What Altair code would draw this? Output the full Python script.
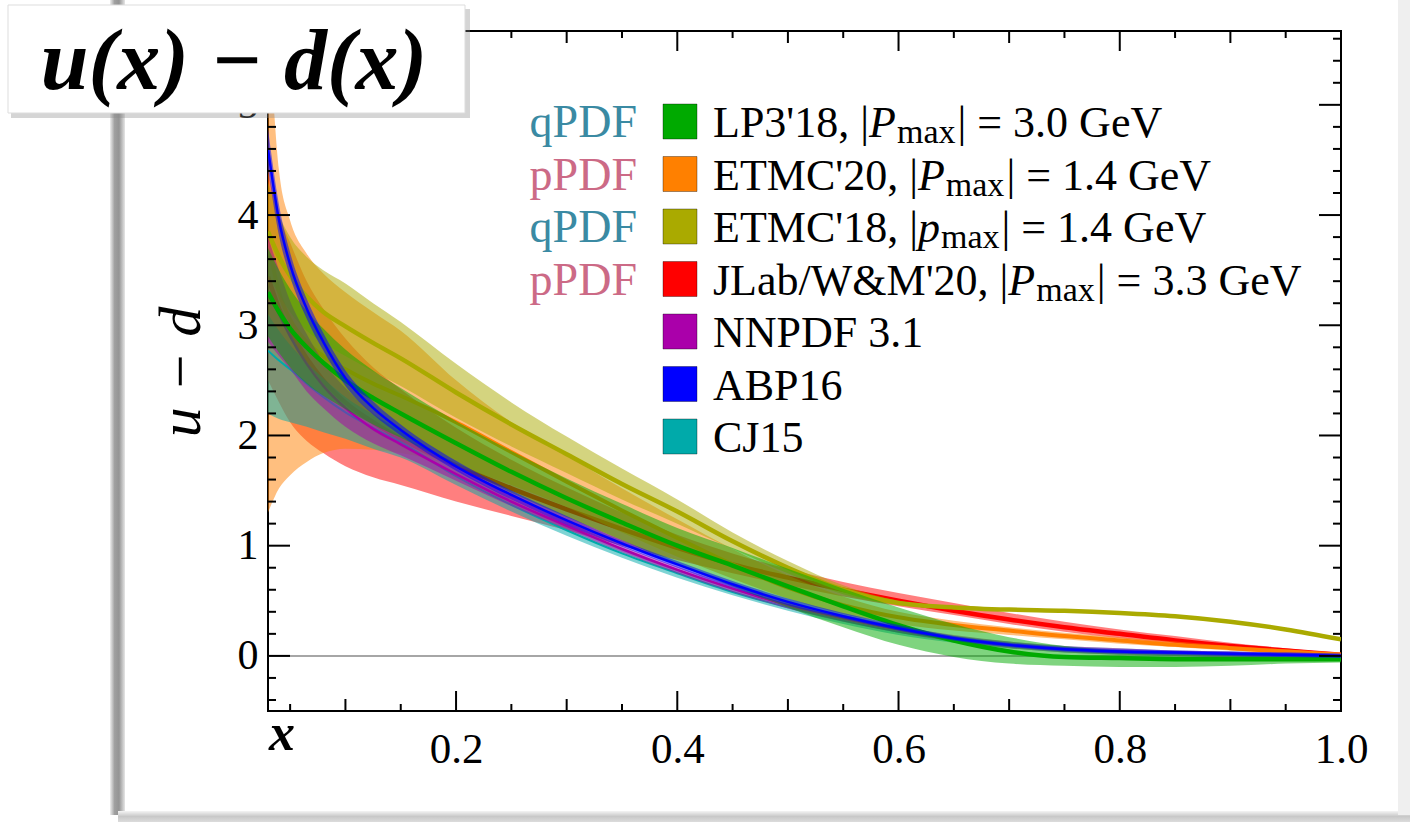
import altair as alt
import pandas as pd
import numpy as np

# ---------------- data ----------------
X = [0.03, 0.04, 0.05, 0.065, 0.08, 0.1, 0.125, 0.15, 0.2, 0.25, 0.3, 0.35, 0.4,
     0.45, 0.5, 0.55, 0.6, 0.65, 0.7, 0.75, 0.8, 0.85, 0.9, 0.95, 1.0]

LP3_MID = [3.3, 3.12, 2.97, 2.8, 2.66, 2.5, 2.34, 2.2, 1.93, 1.67, 1.43, 1.21, 1.0,
           0.82, 0.63, 0.45, 0.28, 0.14, 0.04, -0.01, -0.02, -0.03, -0.03, -0.03, -0.03]
LP3_LO = [2.9, 2.75, 2.62, 2.47, 2.36, 2.24, 2.1, 1.98, 1.73, 1.48, 1.26, 1.05, 0.83,
          0.63, 0.44, 0.26, 0.1, -0.01, -0.07, -0.09, -0.1, -0.1, -0.09, -0.07, -0.06]
LP3_HI = [3.7, 3.5, 3.33, 3.13, 2.97, 2.78, 2.59, 2.43, 2.13, 1.86, 1.61, 1.38, 1.16,
          0.98, 0.79, 0.61, 0.44, 0.29, 0.17, 0.09, 0.05, 0.03, 0.02, 0.01, 0.0]

ETMC20_MID = [3.75, 3.3, 3.05, 2.85, 2.72, 2.6, 2.47, 2.36, 2.12, 1.85, 1.58, 1.32, 1.07,
              0.83, 0.62, 0.46, 0.35, 0.28, 0.23, 0.18, 0.14, 0.1, 0.07, 0.04, 0.01]
ETMC20_LO = [1.3, 1.52, 1.64, 1.76, 1.84, 1.88, 1.87, 1.84, 1.72, 1.55, 1.35, 1.12, 0.9,
             0.7, 0.52, 0.38, 0.29, 0.23, 0.19, 0.15, 0.11, 0.08, 0.05, 0.02, -0.01]
ETMC20_HI = [5.9, 4.4, 3.95, 3.65, 3.47, 3.3, 3.12, 2.95, 2.5, 2.12, 1.82, 1.52, 1.24,
             0.97, 0.73, 0.54, 0.4, 0.32, 0.26, 0.21, 0.17, 0.13, 0.09, 0.06, 0.03]

ETMC18_MID = [3.85, 3.62, 3.45, 3.26, 3.12, 2.99, 2.84, 2.7, 2.39, 2.1, 1.83, 1.56, 1.31,
              1.04, 0.8, 0.6, 0.48, 0.44, 0.42, 0.41, 0.39, 0.36, 0.31, 0.24, 0.15]
ETMC18_LO = [3.45, 3.28, 3.12, 2.95, 2.84, 2.72, 2.58, 2.45, 2.16, 1.9, 1.66, 1.42, 1.2,
             0.97, 0.75, 0.56, 0.46, 0.43, 0.41, 0.4, 0.38, 0.35, 0.3, 0.23, 0.14]
ETMC18_HI = [4.3, 4.0, 3.8, 3.62, 3.5, 3.38, 3.2, 3.03, 2.65, 2.3, 1.99, 1.7, 1.42,
             1.12, 0.86, 0.64, 0.5, 0.45, 0.43, 0.42, 0.4, 0.37, 0.32, 0.25, 0.16]

JLAB_MID = [3.44, 3.15, 2.95, 2.7, 2.5, 2.3, 2.12, 1.97, 1.73, 1.52, 1.33, 1.15, 0.98,
            0.83, 0.71, 0.6, 0.5, 0.41, 0.33, 0.26, 0.2, 0.14, 0.09, 0.05, 0.01]
JLAB_LO = [2.5, 2.3, 2.12, 1.95, 1.84, 1.72, 1.62, 1.55, 1.4, 1.27, 1.14, 1.0, 0.87,
           0.75, 0.64, 0.54, 0.45, 0.37, 0.29, 0.22, 0.16, 0.11, 0.07, 0.03, 0.0]
JLAB_HI = [4.4, 4.0, 3.75, 3.4, 3.15, 2.88, 2.62, 2.42, 2.07, 1.78, 1.53, 1.3, 1.1,
           0.93, 0.79, 0.67, 0.57, 0.48, 0.39, 0.31, 0.24, 0.18, 0.12, 0.07, 0.02]

NNPDF_MID = [3.3, 3.1, 2.9, 2.65, 2.45, 2.25, 2.06, 1.92, 1.65, 1.4, 1.18, 0.97, 0.78,
             0.61, 0.46, 0.34, 0.24, 0.16, 0.1, 0.06, 0.04, 0.03, 0.02, 0.01, 0.0]
NNPDF_LO = [2.85, 2.72, 2.6, 2.4, 2.25, 2.08, 1.93, 1.82, 1.59, 1.36, 1.15, 0.94, 0.75,
            0.58, 0.43, 0.31, 0.21, 0.13, 0.07, 0.03, 0.01, 0.0, -0.01, -0.01, -0.02]
NNPDF_HI = [3.8, 3.5, 3.22, 2.92, 2.67, 2.43, 2.2, 2.03, 1.72, 1.45, 1.22, 1.0, 0.81,
            0.64, 0.49, 0.37, 0.27, 0.19, 0.13, 0.09, 0.07, 0.05, 0.04, 0.03, 0.02]

ABP_MID = [4.6, 3.95, 3.55, 3.15, 2.85, 2.52, 2.25, 2.05, 1.72, 1.46, 1.23, 1.02, 0.83,
           0.65, 0.49, 0.36, 0.25, 0.16, 0.1, 0.06, 0.04, 0.03, 0.02, 0.01, 0.0]
ABP_LO = [4.42, 3.81, 3.44, 3.06, 2.77, 2.45, 2.19, 2.0, 1.68, 1.42, 1.19, 0.99, 0.8,
          0.62, 0.46, 0.34, 0.23, 0.14, 0.08, 0.04, 0.02, 0.01, 0.0, -0.01, -0.02]
ABP_HI = [4.78, 4.09, 3.66, 3.24, 2.93, 2.59, 2.31, 2.1, 1.77, 1.5, 1.27, 1.05, 0.86,
          0.68, 0.52, 0.39, 0.28, 0.18, 0.12, 0.08, 0.06, 0.05, 0.04, 0.03, 0.02]

CJ15_MID = [2.77, 2.68, 2.6, 2.47, 2.35, 2.21, 2.07, 1.94, 1.63, 1.37, 1.14, 0.93, 0.75,
            0.58, 0.44, 0.32, 0.22, 0.15, 0.1, 0.06, 0.04, 0.03, 0.02, 0.01, 0.0]
CJ15_LO = [2.2, 2.15, 2.12, 2.08, 2.03, 1.97, 1.88, 1.8, 1.55, 1.31, 1.09, 0.89, 0.71,
           0.55, 0.41, 0.29, 0.19, 0.12, 0.07, 0.03, 0.01, 0.0, -0.01, -0.01, -0.02]
CJ15_HI = [3.1, 2.95, 2.82, 2.66, 2.52, 2.35, 2.19, 2.05, 1.7, 1.42, 1.18, 0.97, 0.79,
           0.62, 0.47, 0.35, 0.25, 0.18, 0.13, 0.09, 0.07, 0.05, 0.04, 0.03, 0.02]

SERIES = ["LP3'18", "ETMC'20", "ETMC'18", "JLab/W&M'20", "NNPDF 3.1", "ABP16", "CJ15"]
COLORS = ["#00aa00", "#ff8000", "#aaaa00", "#ff0000", "#aa00aa", "#0000ff", "#00aaaa"]
BANDS = {
    "LP3'18": (LP3_LO, LP3_MID, LP3_HI),
    "ETMC'20": (ETMC20_LO, ETMC20_MID, ETMC20_HI),
    "ETMC'18": (ETMC18_LO, ETMC18_MID, ETMC18_HI),
    "JLab/W&M'20": (JLAB_LO, JLAB_MID, JLAB_HI),
    "NNPDF 3.1": (NNPDF_LO, NNPDF_MID, NNPDF_HI),
    "ABP16": (ABP_LO, ABP_MID, ABP_HI),
    "CJ15": (CJ15_LO, CJ15_MID, CJ15_HI),
}
DRAW_ORDER = ["JLab/W&M'20", "ETMC'20", "ETMC'18", "CJ15", "NNPDF 3.1", "LP3'18", "ABP16"]
LINE_W = {"LP3'18": 4.5, "ETMC'20": 4, "ETMC'18": 4.5, "JLab/W&M'20": 4.5,
          "NNPDF 3.1": 2.5, "ABP16": 2.5, "CJ15": 2}

# legend text
LEG_PREFIX = ["LP3'18, |", "ETMC'20, |", "ETMC'18, |", "JLab/W&M'20, |", "NNPDF 3.1", "ABP16", "CJ15"]
LEG_MOM = ["P", "P", "p", "P", "", "", ""]
LEG_SUFFIX = ["| = 3.0 GeV", "| = 1.4 GeV", "| = 1.4 GeV", "| = 3.3 GeV", "", "", ""]
LEG_TAG = ["qPDF", "pPDF", "qPDF", "pPDF"]
TAG_COLORS = {"qPDF": "#3a8aa3", "pPDF": "#cc6a86"}

X_LABELS = [0.2, 0.4, 0.6, 0.8, 1.0]
X_MED = [0.1, 0.3, 0.5, 0.7, 0.9]
X_MINOR = [0.05, 0.15, 0.25, 0.35, 0.45, 0.55, 0.65, 0.75, 0.85, 0.95]
Y_LABELS = [0, 1, 2, 3, 4, 5]
Y_MINOR = [v for v in np.round(np.arange(-0.4, 5.65, 0.2), 1) if abs(v - round(v)) > 1e-6]

# ---------------- layout ----------------
W, H = 1073, 680
PAD = {"left": 268, "top": 31, "right": 69, "bottom": 111}
FONT = "Liberation Serif"

xs = alt.Scale(domain=[0.03, 1.0], nice=False, zero=False)
ys = alt.Scale(domain=[-0.5, 5.67], nice=False, zero=False)
XAXIS = alt.Axis(values=X_LABELS, format=".1f", title=None, ticks=False, tickSize=0,
                 domain=False, grid=False, labelFlush=False, labelOverlap=False,
                 labelPadding=17, labelFontSize=43, labelFont=FONT, labelColor="black")
YAXIS = alt.Axis(values=Y_LABELS, format="d", title=None, ticks=False, tickSize=0,
                 domain=False, grid=False, labelPadding=10, labelFontSize=42,
                 labelFont=FONT, labelColor="black")


def xenc(f):
    return alt.X(f, type="quantitative", scale=xs, axis=XAXIS)


def yenc(f):
    return alt.Y(f, type="quantitative", scale=ys, axis=YAXIS)


one = pd.DataFrame({"k": [0]})
layers = []

# decorations of the screenshot frame
grad_v = alt.Gradient(gradient="linear", x1=0, x2=1, y1=0, y2=0,
                      stops=[alt.GradientStop(color="#eeeeee", offset=0),
                             alt.GradientStop(color="#a0a0a0", offset=0.3),
                             alt.GradientStop(color="#949494", offset=0.6),
                             alt.GradientStop(color="#e6e6e6", offset=1)])
layers.append(alt.Chart(one).mark_rect(color=grad_v).encode(
    x=alt.value(-158), x2=alt.value(-143), y=alt.value(-31), y2=alt.value(784)))
grad_h = alt.Gradient(gradient="linear", x1=0, x2=0, y1=0, y2=1,
                      stops=[alt.GradientStop(color="#f4f4f4", offset=0),
                             alt.GradientStop(color="#c8c8c8", offset=0.5),
                             alt.GradientStop(color="#dcdcdc", offset=1)])
layers.append(alt.Chart(one).mark_rect(color=grad_h).encode(
    x=alt.value(-150), x2=alt.value(1142), y=alt.value(780), y2=alt.value(791)))
layers.append(alt.Chart(one).mark_rect(color="#efefef").encode(
    x=alt.value(1130), x2=alt.value(1142), y=alt.value(-31), y2=alt.value(784)))

# zero line
layers.append(alt.Chart(pd.DataFrame({"y": [0]})).mark_rule(color="#888888", strokeWidth=1.5).encode(
    y=yenc("y"), x=alt.value(0), x2=alt.value(W)))

# each series: band then central line, stacked in drawing order
for name in DRAW_ORDER:
    lo, mid, hi = BANDS[name]
    col = COLORS[SERIES.index(name)]
    df = pd.DataFrame({"x": X, "lo": lo, "mid": mid, "hi": hi})
    layers.append(alt.Chart(df).mark_area(color=col, opacity=0.5, clip=True,
                                          interpolate="monotone").encode(
        x=xenc("x"), y=yenc("lo"), y2="hi:Q"))
    layers.append(alt.Chart(df).mark_line(color=col, strokeWidth=LINE_W[name], clip=True,
                                          interpolate="monotone").encode(
        x=xenc("x"), y=yenc("mid")))


# frame ticks (inward)
def xticks(vals, length):
    d = pd.DataFrame({"x": vals})
    b = alt.Chart(d).mark_rule(color="black", strokeWidth=2).encode(
        x=xenc("x"), y=alt.value(H), y2=alt.value(H - length))
    t = alt.Chart(d).mark_rule(color="black", strokeWidth=2).encode(
        x=xenc("x"), y=alt.value(0), y2=alt.value(length))
    return [b, t]


def yticks(vals, length):
    d = pd.DataFrame({"y": vals})
    l = alt.Chart(d).mark_rule(color="black", strokeWidth=2).encode(
        y=yenc("y"), x=alt.value(0), x2=alt.value(length))
    r = alt.Chart(d).mark_rule(color="black", strokeWidth=2).encode(
        y=yenc("y"), x=alt.value(W), x2=alt.value(W - length))
    return [l, r]


layers += xticks(X_LABELS, 20) + xticks(X_MED, 12) + xticks(X_MINOR, 7)
layers += yticks(Y_LABELS, 22) + yticks(Y_MINOR, 8)

# ---------------- legend ----------------
NORMAL_W = {' ': 250, "'": 180, ',': 250, '.': 250, '/': 278, '&': 778, '|': 200, '=': 564,
            'A': 722, 'B': 667, 'C': 667, 'D': 722, 'E': 611, 'F': 556, 'G': 722, 'J': 389,
            'L': 611, 'M': 889, 'N': 722, 'P': 556, 'T': 611, 'V': 722, 'W': 944,
            'a': 444, 'b': 500, 'e': 444, 'm': 778, 'x': 500}
ITAL_W = {'P': 611, 'p': 500}


def tw(s, size, table=NORMAL_W):
    return sum(table.get(c, 500) for c in s) * size / 1000.0


FS, SUB = 44, 34
TX0, SW0, SW1, TAGX = 445, 395, 429, 369
BASE0, STEP = 106, 52.5

norm_rows, ital_rows, sub_rows, sw_rows, tag_rows = [], [], [], [], []
for i, name in enumerate(SERIES):
    by = BASE0 + STEP * i
    sw_rows.append({"x0": SW0, "x1": SW1, "y0": by - 33, "y1": by + 2, "c": COLORS[i]})
    xp = TX0
    norm_rows.append({"px": xp, "py": by, "t": LEG_PREFIX[i]})
    xp += tw(LEG_PREFIX[i], FS)
    if LEG_MOM[i]:
        ital_rows.append({"px": xp, "py": by, "t": LEG_MOM[i]})
        xp += tw(LEG_MOM[i], FS, ITAL_W) + 1
        sub_rows.append({"px": xp, "py": by + 6, "t": "max"})
        xp += tw("max", SUB) + 2
        norm_rows.append({"px": xp, "py": by, "t": LEG_SUFFIX[i]})
    if i < len(LEG_TAG):
        tag_rows.append({"px": TAGX, "py": by, "t": LEG_TAG[i], "c": TAG_COLORS[LEG_TAG[i]]})

px_x = alt.X("px:Q", scale=None, axis=None)
px_y = alt.Y("py:Q", scale=None, axis=None)

layers.append(alt.Chart(pd.DataFrame(sw_rows)).mark_rect(stroke="#000000", strokeOpacity=0.35,
                                                        strokeWidth=1).encode(
    x=alt.X("x0:Q", scale=None, axis=None), x2="x1:Q",
    y=alt.Y("y0:Q", scale=None, axis=None), y2="y1:Q",
    color=alt.Color("c:N", scale=None)))
layers.append(alt.Chart(pd.DataFrame(norm_rows)).mark_text(
    align="left", baseline="alphabetic", font=FONT, fontSize=FS, color="black").encode(
    x=px_x, y=px_y, text="t:N"))
layers.append(alt.Chart(pd.DataFrame(ital_rows)).mark_text(
    align="left", baseline="alphabetic", font=FONT, fontSize=FS, fontStyle="italic",
    color="black").encode(x=px_x, y=px_y, text="t:N"))
layers.append(alt.Chart(pd.DataFrame(sub_rows)).mark_text(
    align="left", baseline="alphabetic", font=FONT, fontSize=SUB, color="black").encode(
    x=px_x, y=px_y, text="t:N"))
layers.append(alt.Chart(pd.DataFrame(tag_rows)).mark_text(
    align="right", baseline="alphabetic", font=FONT, fontSize=46).encode(
    x=px_x, y=px_y, text="t:N", color=alt.Color("c:N", scale=None)))

# axis titles
layers.append(alt.Chart(one).mark_text(font=FONT, fontSize=60, fontStyle="italic", angle=270,
                                       align="center", baseline="middle", color="black").encode(
    x=alt.value(-86), y=alt.value(341), text=alt.value("u − d")))
layers.append(alt.Chart(one).mark_text(font=FONT, fontSize=52, fontStyle="italic",
                                       fontWeight="bold", align="left", baseline="alphabetic",
                                       color="black").encode(
    x=alt.value(1), y=alt.value(719), text=alt.value("x")))

# title box
layers.append(alt.Chart(one).mark_rect(color="#888888", opacity=0.35).encode(
    x=alt.value(-257), x2=alt.value(202), y=alt.value(-22), y2=alt.value(87)))
layers.append(alt.Chart(one).mark_rect(color="white", stroke="#dddddd", strokeWidth=1).encode(
    x=alt.value(-260), x2=alt.value(197), y=alt.value(-26), y2=alt.value(82)))
layers.append(alt.Chart(one).mark_text(font=FONT, fontSize=86, fontStyle="italic",
                                       fontWeight="bold", align="center", baseline="alphabetic",
                                       color="black").encode(
    x=alt.value(-34), y=alt.value(58), text=alt.value("u(x) − d(x)")))

chart = alt.layer(*layers).properties(
    width=W, height=H, padding=PAD,
    autosize=alt.AutoSizeParams(type="none"),
    background="white",
).configure_view(stroke="black", strokeWidth=2)

chart.save("out.html", embed_options={"renderer": "svg", "actions": False})
